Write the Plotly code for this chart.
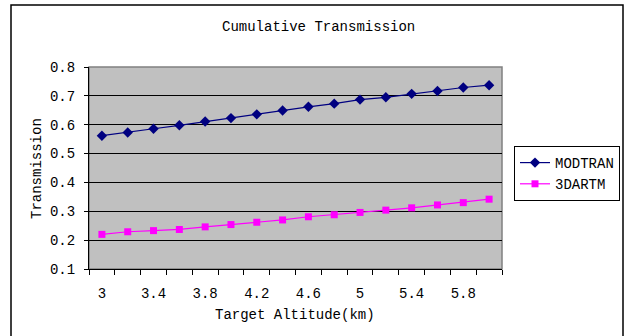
import plotly.graph_objects as go

altitude = [3.0, 3.2, 3.4, 3.6, 3.8, 4.0, 4.2, 4.4, 4.6, 4.8, 5.0, 5.2, 5.4, 5.6, 5.8, 6.0]
modtran = [0.562, 0.573, 0.586, 0.598, 0.611, 0.623, 0.636, 0.649,
           0.662, 0.673, 0.687, 0.695, 0.707, 0.717, 0.729, 0.737]
dartm = [0.220, 0.229, 0.233, 0.237, 0.246, 0.254, 0.262, 0.270,
         0.281, 0.288, 0.296, 0.304, 0.312, 0.322, 0.330, 0.342]
tick_labels = ["3", "3.4", "3.8", "4.2", "4.6", "5", "5.4", "5.8"]
tick_positions = [3.0, 3.4, 3.8, 4.2, 4.6, 5.0, 5.4, 5.8]
y_ticks = [0.1, 0.2, 0.3, 0.4, 0.5, 0.6, 0.7, 0.8]
y_labels = ["0.1", "0.2", "0.3", "0.4", "0.5", "0.6", "0.7", "0.8"]
boundaries = [round(2.9 + 0.2 * i, 2) for i in range(len(altitude) + 1)]

FONT = "Liberation Mono, Courier New, monospace"
fs = 14
W, H = 625, 336
L, R, T, B = 89, 123, 67, 67
PW, PH = W - L - R, H - T - B


def px(x):
    return (x - L) / PW


def py(y):
    return (H - B - y) / PH


tf = dict(family=FONT, size=fs, color="black")

fig = go.Figure()
fig.add_trace(go.Scatter(
    x=altitude, y=modtran, name="MODTRAN", mode="lines+markers",
    line=dict(color="#000080", width=1.2),
    marker=dict(symbol="diamond", size=8, color="#000080"),
))
fig.add_trace(go.Scatter(
    x=altitude, y=dartm, name="3DARTM", mode="lines+markers",
    line=dict(color="#FF00FF", width=1.2),
    marker=dict(symbol="square", size=7, color="#FF00FF"),
))
fig.add_trace(go.Scatter(x=[altitude[0]], y=[dartm[0]], xaxis="x2", mode="markers",
                         marker=dict(opacity=0), showlegend=False, hoverinfo="skip"))

fig.update_layout(
    width=W, height=H,
    margin=dict(l=L, r=R, t=T, b=B, autoexpand=False),
    paper_bgcolor="white",
    plot_bgcolor="#C0C0C0",
    font=tf,
    xaxis=dict(
        range=[2.9, 6.1], tickmode="array", tickvals=boundaries, showticklabels=False,
        ticks="outside", ticklen=5, tickcolor="black", showgrid=False, zeroline=False,
        showline=True, linecolor="black", linewidth=1, automargin=False,
    ),
    xaxis2=dict(
        range=[2.9, 6.1], overlaying="x", side="bottom", tickmode="array",
        tickvals=tick_positions, ticktext=tick_labels, ticks="", showgrid=False,
        zeroline=False, showline=False, ticklabelstandoff=14, tickfont=tf,
        automargin=False,
    ),
    yaxis=dict(
        range=[0.1, 0.8], tickmode="array", tickvals=y_ticks, ticktext=y_labels,
        ticks="outside", ticklen=4, tickcolor="black", showgrid=True, gridcolor="black",
        gridwidth=1, zeroline=False, showline=True, linecolor="black", linewidth=1,
        ticklabelstandoff=6, tickfont=tf, automargin=False,
    ),
    legend=dict(
        x=px(514), y=py(146), xanchor="left", yanchor="top",
        bordercolor="black", borderwidth=1, bgcolor="white",
        font=tf, itemwidth=30, tracegroupgap=0,
    ),
    showlegend=True,
    annotations=[
        dict(text="Cumulative Transmission", xref="paper", yref="paper",
             x=px(318), y=py(27), showarrow=False, font=tf, xanchor="center", yanchor="middle"),
        dict(text="Target Altitude(km)", xref="paper", yref="paper",
             x=px(295), y=py(315), showarrow=False, font=tf, xanchor="center", yanchor="middle"),
        dict(text="Transmission", xref="paper", yref="paper", textangle=-90,
             x=px(37), y=py(168), showarrow=False, font=tf, xanchor="center", yanchor="middle"),
    ],
)

fig.add_shape(type="rect", xref="paper", yref="paper", x0=0, x1=1, y0=0, y1=1,
              line=dict(color="#808080", width=1.5), layer="below")
fig.add_shape(type="rect", xref="paper", yref="paper",
              x0=px(11), x1=px(623), y0=py(345), y1=py(5),
              line=dict(color="black", width=1.5), fillcolor="rgba(0,0,0,0)")

fig.write_html("out.html", config={"displayModeBar": False},
               post_script="document.body.style.margin='0px';")
